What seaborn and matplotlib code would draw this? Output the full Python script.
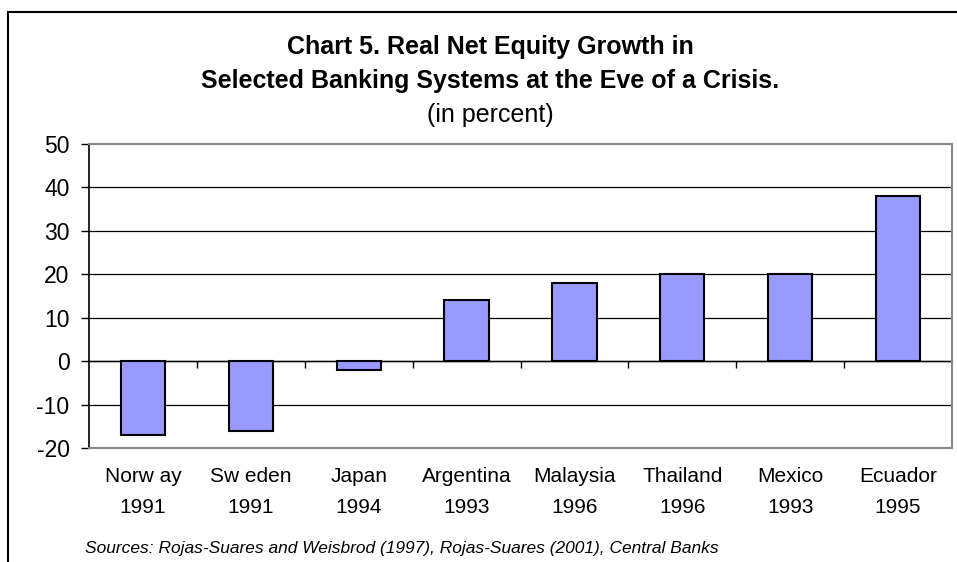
import matplotlib
matplotlib.use("Agg")
import matplotlib.pyplot as plt
from matplotlib.patches import Rectangle
import seaborn as sns
import pandas as pd

countries = ["Norway", "Sweden", "Japan", "Argentina", "Malaysia", "Thailand", "Mexico", "Ecuador"]
years = ["1991", "1991", "1994", "1993", "1996", "1996", "1993", "1995"]
growth = [-17, -16, -2, 14, 18, 20, 20, 38]
yticks = [-20, -10, 0, 10, 20, 30, 40, 50]
tick_labels = ["Norw ay\n1991", "Sw eden\n1991", "Japan\n1994", "Argentina\n1993",
               "Malaysia\n1996", "Thailand\n1996", "Mexico\n1993", "Ecuador\n1995"]

df = pd.DataFrame({"label": tick_labels, "growth": growth})

sns.set_theme(style="white")
plt.rcParams['font.family'] = ['Liberation Sans', 'DejaVu Sans']
plt.rcParams['text.color'] = 'black'
plt.rcParams['xtick.color'] = 'black'
plt.rcParams['ytick.color'] = 'black'
plt.rcParams['xtick.labelcolor'] = 'black'
plt.rcParams['ytick.labelcolor'] = 'black'

fig = plt.figure(figsize=(9.57, 5.62), dpi=100)
ax = fig.add_axes([89/957, 1-448/562, (952-89)/957, (448-144)/562])

sns.barplot(data=df, x="label", y="growth", color="#9999FF", saturation=1,
            width=0.41, edgecolor="black", linewidth=1.5, ax=ax, zorder=3)

ax.set_ylim(-20, 50)
ax.set_xlim(-0.5, len(growth) - 0.5)
ax.set_yticks(yticks)
ax.set_yticklabels([str(v) for v in yticks], fontsize=16.5)
ax.set_xlabel("")
ax.set_ylabel("")
ax.set_xticks(range(len(growth)))
ax.set_xticklabels(tick_labels, fontsize=15, linespacing=1.75)
ax.tick_params(axis="x", length=0, pad=14)
ax.tick_params(axis="y", length=6, width=1, color="black", direction="out", left=True, pad=8)

for v in yticks[1:-1]:
    ax.axhline(v, color="black", lw=0.9, zorder=1)

for s in ["top", "right", "bottom"]:
    ax.spines[s].set_color("#888888")
    ax.spines[s].set_linewidth(1.5)
ax.spines["left"].set_color("black")
ax.spines["left"].set_linewidth(1.2)

# category boundary ticks on zero line
sec = ax.secondary_xaxis((0 - (-20)) / 70)
sec.set_xticks([i + 0.5 for i in range(len(growth) - 1)])
sec.set_xticklabels([])
sec.tick_params(axis="x", direction="out", length=5, width=1, color="black")
sec.spines["bottom"].set_color("black")
sec.spines["bottom"].set_linewidth(1)

fig.text(490/957, 1-47/562, "Chart 5. Real Net Equity Growth in", ha="center", va="center",
         fontsize=18, fontweight="bold")
fig.text(490/957, 1-81/562, "Selected Banking Systems at the Eve of a Crisis.", ha="center", va="center",
         fontsize=18, fontweight="bold")
fig.text(490/957, 1-115/562, "(in percent)", ha="center", va="center", fontsize=18)
fig.text(85/957, 1-548/562,
         "Sources: Rojas-Suares and Weisbrod (1997), Rojas-Suares (2001), Central Banks",
         ha="left", va="center", fontsize=12.5, style="italic")

fig.patches.append(Rectangle((8/957, -0.2), 1.2, 1.2 - 12/562, transform=fig.transFigure,
                             fill=False, edgecolor="black", lw=1.5))

fig.savefig("out.png", dpi=100)
